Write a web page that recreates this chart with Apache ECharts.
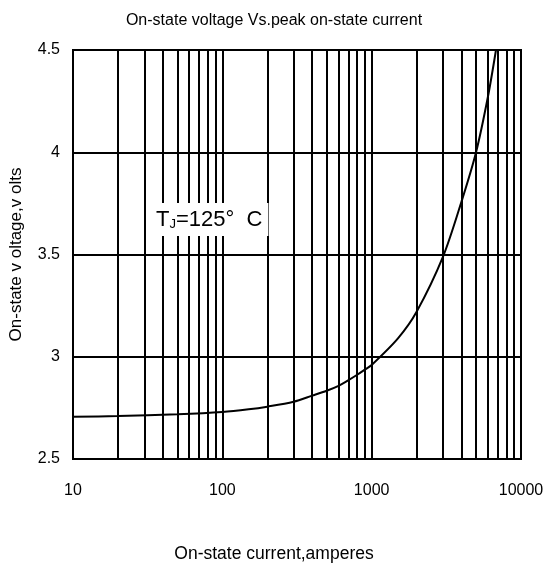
<!DOCTYPE html>
<html><head><meta charset="utf-8">
<script src="https://cdn.jsdelivr.net/npm/echarts@6/dist/echarts.min.js"></script>
<style>html,body{margin:0;padding:0;background:#fff}#c{width:548px;height:568px}</style>
</head><body><div id="c"></div>
<script>
const currents = [10, 20, 50, 100, 150, 200, 300, 400, 500, 600, 700, 800, 900, 1000, 1500, 2000, 3000, 4000, 5000, 6000, 6800];
const voltages = [2.707, 2.71, 2.719, 2.73, 2.743, 2.756, 2.78, 2.81, 2.834, 2.858, 2.886, 2.912, 2.937, 2.96, 3.09, 3.22, 3.488, 3.76, 4.0, 4.27, 4.5];
const minorLines = [20,30,40,50,60,70,80,90,200,300,400,500,600,700,800,900,2000,3000,4000,5000,6000,7000,8000,9000];
const yTicks = [2.5, 3, 3.5, 4, 4.5];

const chart = echarts.init(document.getElementById('c'));
chart.setOption({
  animation: false,
  textStyle: {fontFamily: 'Liberation Sans, Arial, sans-serif', color: '#000'},
  title: [
    {text: 'On-state voltage Vs.peak on-state current', left: 'center', top: 8,
     textStyle: {fontSize: 16, fontWeight: 'normal', color: '#000', fontFamily: 'Liberation Sans'}},
    {text: 'On-state current,amperes', left: 'center', top: 540,
     textStyle: {fontSize: 17.5, fontWeight: 'normal', color: '#000', fontFamily: 'Liberation Sans'}}
  ],
  grid: {left: 73, right: 27, top: 50, bottom: 109, show: true, borderColor: '#000', borderWidth: 2, backgroundColor: 'transparent'},
  xAxis: {
    type: 'log', logBase: 10, min: 10, max: 10000,
    axisLine: {show: false}, axisTick: {show: false},
    axisLabel: {fontSize: 16, color: '#000', margin: 24, fontFamily: 'Liberation Sans', formatter: v => String(v)},
    splitLine: {show: true, lineStyle: {color: '#000', width: 2}}
  },
  yAxis: {
    type: 'value', min: 2.5, max: 4.5, interval: 0.5,
    name: 'On-state v oltage,v olts', nameLocation: 'middle', nameGap: 48,
    nameTextStyle: {fontSize: 17, color: '#000', fontFamily: 'Liberation Sans'},
    axisLine: {show: false}, axisTick: {show: false},
    axisLabel: {fontSize: 16, color: '#000', margin: 13, fontFamily: 'Liberation Sans',
      formatter: v => yTicks.includes(v) ? String(v) : ''},
    splitLine: {show: true, lineStyle: {color: '#000', width: 2}}
  },
  series: [{
    type: 'line', smooth: 0.3, showSymbol: false,
    data: currents.map((c, i) => [c, voltages[i]]),
    lineStyle: {color: '#000', width: 2},
    markLine: {
      silent: true, symbol: 'none', label: {show: false},
      lineStyle: {color: '#000', width: 2, type: 'solid'},
      data: minorLines.map(v => ({xAxis: v}))
    },
    z: 3
  }],
  graphic: [{
    type: 'text', left: 150, top: 203, z: 100,
    style: {
      text: '{a|T}{b|J}{a|=125°  C}',
      backgroundColor: '#fff', padding: [5, 6, 5, 6],
      rich: {
        a: {fontSize: 22, fontFamily: 'Liberation Sans', fill: '#000', color: '#000'},
        b: {fontSize: 13, fontFamily: 'Liberation Sans', fill: '#000', color: '#000', verticalAlign: 'bottom', padding: [10, 0, 0, 0]}
      }
    }
  }]
});
</script></body></html>
